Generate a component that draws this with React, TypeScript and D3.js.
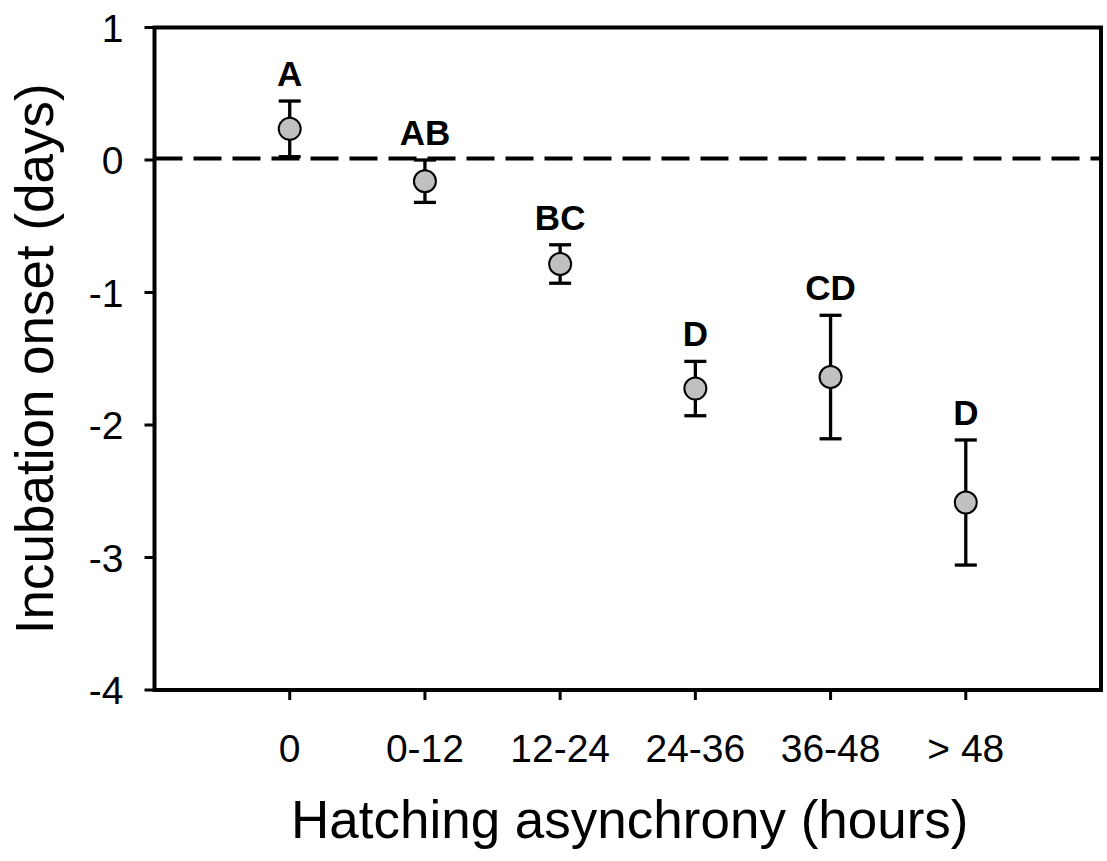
import React from "react";
import * as d3 from "d3";

const categories = ["0", "0-12", "12-24", "24-36", "36-48", "> 48"];
const means = [0.235, -0.16, -0.785, -1.725, -1.638, -2.585];
const errors = [0.21, 0.16, 0.145, 0.205, 0.466, 0.472];
const letters = ["A", "AB", "BC", "D", "CD", "D"];
const yTicks = [1, 0, -1, -2, -3, -4];
const refValue = 0;

const W = 1107;
const H = 861;
const FONT = "'Liberation Sans', Arial, Helvetica, sans-serif";

export default function App() {
  const left = 154.5;
  const right = 1101;
  const top = 27.5;
  const bottom = 690;

  const x = d3.scaleLinear().domain([-1, categories.length]).range([left, right]);
  const y = d3.scaleLinear().domain([-4, 1]).range([bottom, top]);

  const dash = d3.line<[number, number]>()([
    [left, y(refValue) - 1.5],
    [right, y(refValue) - 1.5],
  ]);

  return (
    <svg
      width={W}
      height={H}
      style={{ position: "absolute", left: 0, top: 0, background: "#fff" }}
      fontFamily={FONT}
    >
      <rect x={0} y={0} width={W} height={H} fill="#fff" />
      {/* reference dashed line */}
      <path d={dash ?? ""} stroke="#000" strokeWidth={4} strokeDasharray="28 11" fill="none" />

      {/* y ticks */}
      {yTicks.map((t) => (
        <g key={"y" + t}>
          <line x1={left - 10} x2={left} y1={y(t)} y2={y(t)} stroke="#000" strokeWidth={3} />
          <text
            x={123.5}
            y={y(t)}
            dy="0.36em"
            textAnchor="end"
            fontSize={39}
            fill="#000"
          >
            {t}
          </text>
        </g>
      ))}

      {/* x ticks */}
      {categories.map((c, i) => (
        <g key={"x" + i}>
          <line x1={x(i)} x2={x(i)} y1={bottom} y2={bottom + 10} stroke="#000" strokeWidth={3} />
          <text x={x(i)} y={762} textAnchor="middle" fontSize={39} fill="#000">
            {c}
          </text>
        </g>
      ))}

      {/* frame */}
      <rect
        x={left}
        y={top}
        width={right - left}
        height={bottom - top}
        fill="none"
        stroke="#000"
        strokeWidth={4}
      />

      {/* error bars and points */}
      {means.map((m, i) => {
        const cx = x(i);
        const yu = y(m + errors[i]);
        const yl = y(m - errors[i]);
        return (
          <g key={"p" + i}>
            <line x1={cx} x2={cx} y1={yu} y2={yl} stroke="#000" strokeWidth={3.3} />
            <line x1={cx - 11} x2={cx + 11} y1={yu} y2={yu} stroke="#000" strokeWidth={3.3} />
            <line x1={cx - 11} x2={cx + 11} y1={yl} y2={yl} stroke="#000" strokeWidth={3.3} />
            <circle cx={cx} cy={y(m)} r={11} fill="#c0c0c0" stroke="#000" strokeWidth={2} />
            <text
              x={cx}
              y={yu - 15}
              textAnchor="middle"
              fontSize={35}
              fontWeight="bold"
              fill="#000"
            >
              {letters[i]}
            </text>
          </g>
        );
      })}

      {/* axis titles */}
      <text x={(left + right) / 2 + 2} y={838} textAnchor="middle" fontSize={53} fill="#000">
        Hatching asynchrony (hours)
      </text>
      <text
        transform={`translate(53, ${(top + bottom) / 2}) rotate(-90)`}
        textAnchor="middle"
        fontSize={53}
        fill="#000"
      >
        Incubation onset (days)
      </text>
    </svg>
  );
}
